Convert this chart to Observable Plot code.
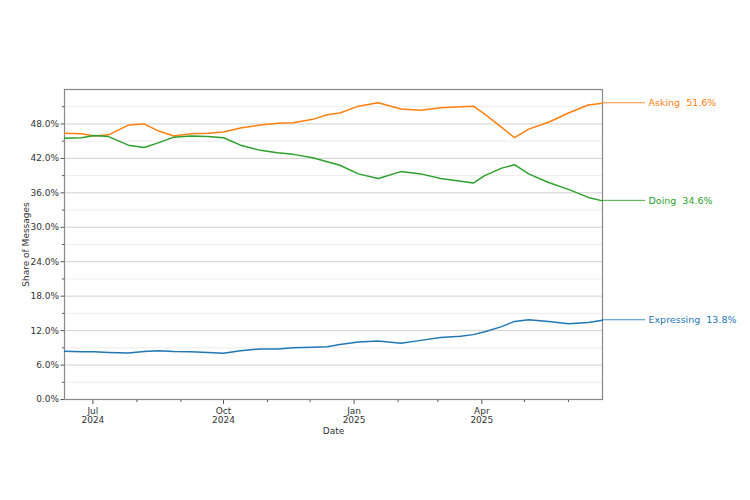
<!DOCTYPE html>
<html>
<head>
<meta charset="utf-8">
<script src="https://cdn.jsdelivr.net/npm/d3@7"></script>
<script src="https://cdn.jsdelivr.net/npm/@observablehq/plot@0.6"></script>
<style>
  html, body { margin: 0; padding: 0; background: white; }
</style>
</head>
<body>
<div id="chart"></div>
<script>
const dates = [
  "2024-06-11","2024-06-23","2024-07-02","2024-07-12","2024-07-26","2024-08-06",
  "2024-08-16","2024-08-27","2024-09-08","2024-09-20","2024-10-01","2024-10-13",
  "2024-10-27","2024-11-08","2024-11-19","2024-12-03","2024-12-13","2024-12-22",
  "2025-01-04","2025-01-18","2025-02-03","2025-02-17","2025-03-03","2025-03-17",
  "2025-03-26","2025-04-03","2025-04-15","2025-04-24","2025-05-04","2025-05-18",
  "2025-06-01","2025-06-15","2025-06-25"
];
const asking = [
  46.4, 46.3, 45.9, 46.1, 47.8, 48.0,
  46.8, 45.9, 46.3, 46.4, 46.6, 47.3,
  47.8, 48.1, 48.2, 48.8, 49.6, 49.9,
  51.1, 51.7, 50.6, 50.4, 50.8, 51.0,
  51.1, 49.7, 47.4, 45.6, 47.1, 48.3,
  49.9, 51.3, 51.6
];
const doing = [
  45.5, 45.6, 46.0, 45.8, 44.3, 43.9,
  44.7, 45.7, 45.9, 45.8, 45.6, 44.3,
  43.4, 43.0, 42.7, 42.1, 41.4, 40.8,
  39.3, 38.5, 39.7, 39.3, 38.5, 38.0,
  37.7, 39.0, 40.3, 40.9, 39.3, 37.8,
  36.6, 35.2, 34.6
];
const expressing = [
  8.4, 8.3, 8.3, 8.2, 8.1, 8.35,
  8.5, 8.35, 8.3, 8.2, 8.05, 8.5,
  8.8, 8.8, 9.0, 9.1, 9.2, 9.6,
  10.0, 10.2, 9.8, 10.3, 10.8, 11.0,
  11.3, 11.8, 12.7, 13.6, 13.9, 13.6,
  13.2, 13.4, 13.8
];
const seriesNames = ["Asking", "Doing", "Expressing"];
const seriesColors = ["#ff7f0e", "#2ca02c", "#1f77b4"];
const seriesValues = [asking, doing, expressing];
const majorYTicks = [0, 6, 12, 18, 24, 30, 36, 42, 48];
const minorYTicks = [3, 9, 15, 21, 27, 33, 39, 45, 51];
const majorXTicks = ["2024-07-01", "2024-10-01", "2025-01-01", "2025-04-01"];
const minorXTicks = ["2024-08-01","2024-09-01","2024-11-01","2024-12-01","2025-02-01","2025-03-01","2025-05-01","2025-06-01"];
const xDomain = ["2024-06-11", "2025-06-25"];

const parse = s => new Date(s + "T00:00:00Z");
const series = seriesNames.map((name, i) => ({
  name,
  color: seriesColors[i],
  rows: dates.map((d, j) => ({date: parse(d), value: seriesValues[i][j]}))
}));
const lastRows = series.map(s => ({...s.rows[s.rows.length - 1], name: s.name, color: s.color}));
const monthNames = ["Jan","Feb","Mar","Apr","May","Jun","Jul","Aug","Sep","Oct","Nov","Dec"];

function leaders(index, scales) {
  const g = d3.create("svg:g");
  for (const r of lastRows) {
    const x0 = scales.x(r.date), y0 = scales.y(r.value);
    g.append("line")
      .attr("x1", x0).attr("x2", x0 + 43)
      .attr("y1", y0).attr("y2", y0)
      .attr("stroke", r.color).attr("stroke-width", 1).attr("stroke-opacity", 0.85);
  }
  return g.node();
}

const chart = Plot.plot({
  width: 750,
  height: 500,
  marginLeft: 64,
  marginRight: 148,
  marginTop: 89,
  marginBottom: 101,
  style: {fontFamily: "DejaVu Sans", fontSize: "9px", color: "#333", background: "white"},
  x: {type: "utc", domain: xDomain.map(parse)},
  y: {domain: [0, 54]},
  marks: [
    Plot.gridY(minorYTicks, {stroke: "#ececec", strokeOpacity: 1}),
    Plot.gridY(majorYTicks, {stroke: "#d0d0d0", strokeOpacity: 1}),
    Plot.axisY({ticks: minorYTicks, tickSize: 2, text: null, label: null, stroke: "#555"}),
    Plot.axisY({
      ticks: majorYTicks, tickSize: 3.5, tickPadding: 2,
      tickFormat: d => d.toFixed(1) + "%",
      label: "Share of Messages", labelAnchor: "center", labelArrow: "none", labelOffset: 42,
      stroke: "#555", fill: "#333"
    }),
    Plot.axisX({ticks: minorXTicks.map(parse), tickSize: 3, text: null, label: null, stroke: "#555"}),
    Plot.axisX({
      ticks: majorXTicks.map(parse), tickSize: 5, tickPadding: 3,
      tickFormat: d => monthNames[d.getUTCMonth()] + "\n" + d.getUTCFullYear(),
      lineHeight: 1,
      label: "Date", labelAnchor: "center", labelArrow: "none", labelOffset: 34,
      stroke: "#555", fill: "#333"
    }),
    Plot.frame({stroke: "#888", strokeWidth: 1.2}),
    ...series.map(s => Plot.line(s.rows, {x: "date", y: "value", stroke: s.color, strokeWidth: 1.5})),
    leaders,
    Plot.text(lastRows, {
      x: "date", y: "value", dx: 46, textAnchor: "start",
      text: d => d.name + "\u00a0\u00a0" + d.value.toFixed(1) + "%",
      fill: d => d.color, fontSize: 9.5
    })
  ]
});
document.getElementById("chart").appendChild(chart);
</script>
</body>
</html>
